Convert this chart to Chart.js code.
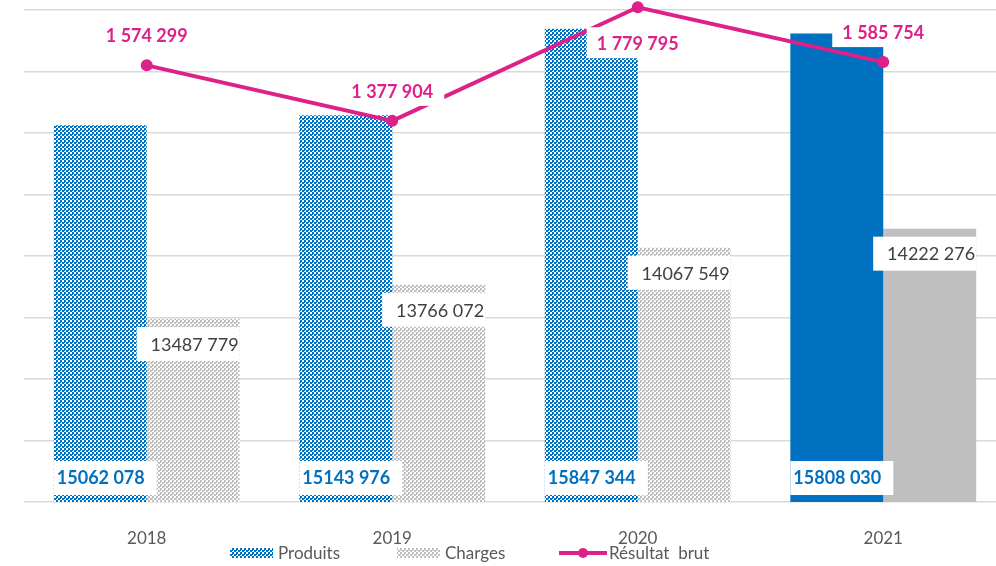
<!DOCTYPE html>
<html>
<head>
<meta charset="utf-8">
<script src="https://cdn.jsdelivr.net/npm/chart.js@4"></script>
<style>
  html, body { margin: 0; padding: 0; background: #fff; overflow: hidden; }
  #wrap { width: 1012px; height: 566px; }
</style>
</head>
<body>
<div id="wrap"><canvas id="chart" width="1012" height="566"></canvas></div>
<script>
const years = ['2018', '2019', '2020', '2021'];
const produits = [15062078, 15143976, 15847344, 15808030];
const charges = [13487779, 13766072, 14067549, 14222276];
const resultat = [1574299, 1377904, 1779795, 1585754];

const BLUE = '#0070c0';
const GREY = '#bfbfbf';
const PINK = '#de2188';
const FONT = 'Lato, "Open Sans", sans-serif';

const canvas = document.getElementById('chart');
const ctx = canvas.getContext('2d');

function pattern(color) {
    const c = document.createElement('canvas');
    c.width = 4; c.height = 4;
    const g = c.getContext('2d');
    g.fillStyle = '#fff';
    g.fillRect(0, 0, 4, 4);
    g.fillStyle = color;
    g.fillRect(0, 0, 2, 2);
    g.fillRect(2, 2, 2, 2);
    g.fillRect(0, 2, 1, 1);
    return ctx.createPattern(c, 'repeat');
}
const bluePat = pattern(BLUE);
const greyPat = pattern(GREY);

// "15062 078"
function fmtBar(v) {
    return Math.floor(v / 1000) + ' ' + String(v % 1000).padStart(3, '0');
}
// "1 574 299"
function fmtLine(v) {
    return String(v).replace(/\B(?=(\d{3})+(?!\d))/g, ' ');
}

function box(c, x, y, w, h) {
    c.fillStyle = '#fff';
    c.fillRect(x, y, w, h);
}

const labelPlugin = {
    id: 'labels',
    afterDatasetsDraw(chart) {
        const c = chart.ctx;
        const bottom = chart.chartArea.bottom;
        c.save();
        c.textBaseline = 'middle';
        // Produits: at bar bottom
        const pm = chart.getDatasetMeta(1);
        c.font = 'bold 18px ' + FONT;
        pm.data.forEach((bar, i) => {
            const left = bar.x - bar.width / 2;
            box(c, left, bottom - 41, 103, 34);
            c.fillStyle = BLUE;
            c.textAlign = 'left';
            c.fillText(fmtBar(produits[i]), left + 3, bottom - 24);
        });
        // Charges: just under bar top
        const cm = chart.getDatasetMeta(2);
        c.font = '18px ' + FONT;
        cm.data.forEach((bar, i) => {
            const right = bar.x + bar.width / 2;
            box(c, right - 103, bar.y + 8, 103, 34);
            c.fillStyle = '#404040';
            c.textAlign = 'right';
            c.fillText(fmtBar(charges[i]), right - 1, bar.y + 26);
        });
        // Résultat brut
        const lm = chart.getDatasetMeta(0);
        c.font = 'bold 18px ' + FONT;
        c.textAlign = 'center';
        lm.data.forEach((pt, i) => {
            const ty = i === 2 ? pt.y + 36 : pt.y - 30;
            box(c, pt.x - 51, ty - 16, 103, 31);
            c.fillStyle = PINK;
            c.fillText(fmtLine(resultat[i]), pt.x, ty + 1);
        });
        c.restore();
    },
    afterDraw(chart) {
        const c = chart.ctx;
        c.save();
        c.font = '17px ' + FONT;
        c.textBaseline = 'middle';
        c.textAlign = 'left';
        const y = 553;
        c.fillStyle = bluePat;
        c.fillRect(230, 548, 43, 10);
        c.fillStyle = '#595959';
        c.fillText('Produits', 278, y + 1);
        c.fillStyle = greyPat;
        c.fillRect(397, 548, 43, 10);
        c.fillStyle = '#595959';
        c.fillText('Charges', 445, y + 1);
        c.strokeStyle = PINK;
        c.lineWidth = 4;
        c.beginPath();
        c.moveTo(559, y); c.lineTo(607, y);
        c.stroke();
        c.fillStyle = PINK;
        c.beginPath();
        c.arc(583, y, 5, 0, Math.PI * 2);
        c.fill();
        c.fillStyle = '#595959';
        c.fillText('Résultat  brut', 609, y + 1);
        c.restore();
    }
};

new Chart(canvas, {
    type: 'bar',
    data: {
        labels: years,
        datasets: [
            {
                type: 'line',
                label: 'Résultat  brut',
                data: resultat,
                yAxisID: 'y2',
                order: 0,
                borderColor: PINK,
                backgroundColor: PINK,
                borderWidth: 4,
                pointRadius: 6,
                pointBackgroundColor: PINK,
                pointBorderWidth: 0,
                tension: 0,
                clip: false
            },
            {
                label: 'Produits',
                data: produits,
                yAxisID: 'y',
                order: 1,
                backgroundColor: [bluePat, bluePat, bluePat, BLUE],
                borderWidth: 0
            },
            {
                label: 'Charges',
                data: charges,
                yAxisID: 'y',
                order: 2,
                backgroundColor: [greyPat, greyPat, greyPat, GREY],
                borderWidth: 0
            }
        ]
    },
    options: {
        responsive: false,
        animation: false,
        layout: { padding: { left: 24, top: 10, right: 0, bottom: 0 } },
        datasets: {
            bar: { categoryPercentage: 0.757, barPercentage: 1 }
        },
        plugins: {
            legend: { display: false },
            tooltip: { enabled: false }
        },
        scales: {
            x: {
                grid: { display: false },
                border: { display: false },
                ticks: { color: '#595959', font: { family: FONT, size: 17 }, padding: 18 },
                afterFit: s => { s.height = 64; }
            },
            y: {
                min: 12000000,
                max: 16000000,
                ticks: { display: false, stepSize: 500000 },
                grid: { color: '#d9d9d9', lineWidth: 1.5, drawTicks: false },
                border: { display: false },
                afterFit: s => { s.width = 0; }
            },
            y2: {
                display: false,
                min: 30000,
                max: 1770000
            }
        }
    },
    plugins: [labelPlugin]
});
</script>
</body>
</html>
